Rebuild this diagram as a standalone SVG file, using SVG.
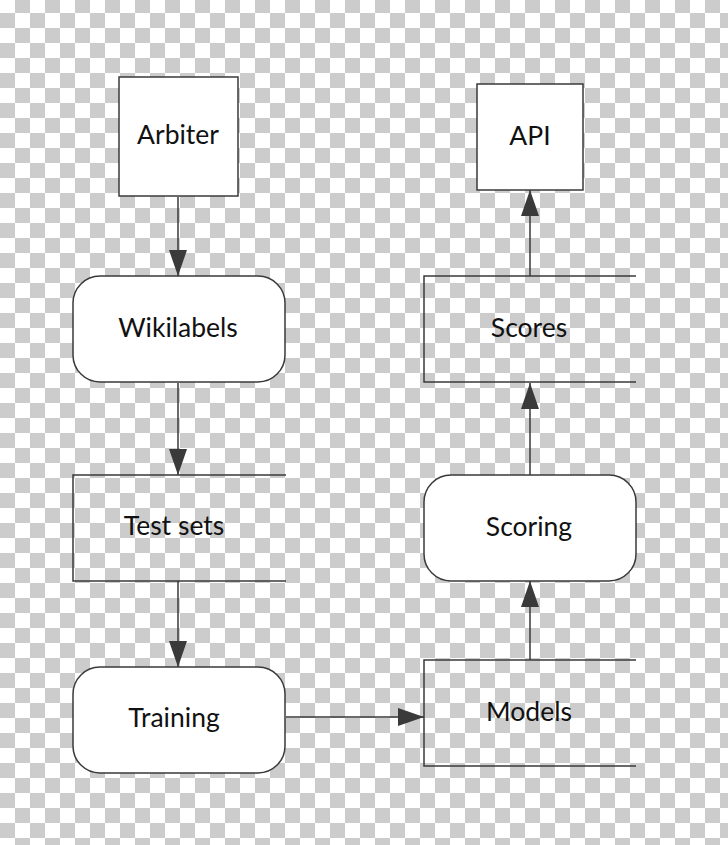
<svg xmlns="http://www.w3.org/2000/svg" width="728" height="845" viewBox="0 0 728 845">
<defs>
<pattern id="checker" patternUnits="userSpaceOnUse" x="0" y="-2" width="30" height="30">
<rect x="0" y="0" width="30" height="30" fill="#ffffff"/>
<rect x="15" y="0" width="15" height="15" fill="#cccccc"/>
<rect x="0" y="15" width="15" height="15" fill="#cccccc"/>
</pattern>
<marker id="arrow" markerUnits="userSpaceOnUse" markerWidth="26" markerHeight="18" refX="26" refY="9" orient="auto">
<path d="M0,0 L26,9 L0,18 z" fill="#3a3a3a"/>
</marker>
<style>
.box{fill:#ffffff;stroke:#3a3a3a;stroke-width:1.5}
.store{fill:none;stroke:#3a3a3a;stroke-width:1.5}
.conn{fill:none;stroke:#3a3a3a;stroke-width:1.5;marker-end:url(#arrow)}
.lbl{font-family:Lato,"Open Sans","Liberation Sans",sans-serif;font-size:26.5px;fill:#111111;text-anchor:middle;dominant-baseline:central}
</style>
</defs>
<rect x="0" y="0" width="728" height="845" fill="url(#checker)"/>
<g id="connectors">
<line class="conn" x1="178" y1="197" x2="178" y2="276"/>
<line class="conn" x1="178" y1="383" x2="178" y2="475"/>
<line class="conn" x1="178" y1="581" x2="178" y2="667"/>
<line class="conn" x1="286" y1="717" x2="424" y2="717"/>
<line class="conn" x1="530" y1="660" x2="530" y2="581"/>
<line class="conn" x1="530" y1="475" x2="530" y2="383"/>
<line class="conn" x1="530" y1="276" x2="530" y2="190"/>
</g>
<g id="arbiter">
<rect class="box" x="119" y="77" width="119" height="119"/>
<text class="lbl" x="178" y="134">Arbiter</text>
</g>
<g id="wikilabels">
<rect class="box" x="73" y="276" width="212" height="106" rx="27" ry="27"/>
<text class="lbl" x="178" y="327">Wikilabels</text>
</g>
<g id="testsets">
<path class="store" d="M286,475 H73 V581 H286"/>
<text class="lbl" x="174" y="525">Test sets</text>
</g>
<g id="training">
<rect class="box" x="73" y="667" width="212" height="106" rx="27" ry="27"/>
<text class="lbl" x="174" y="717">Training</text>
</g>
<g id="models">
<path class="store" d="M636,660 H424 V766 H636"/>
<text class="lbl" x="529" y="711">Models</text>
</g>
<g id="scoring">
<rect class="box" x="424" y="475" width="212" height="106" rx="27" ry="27"/>
<text class="lbl" x="529" y="526">Scoring</text>
</g>
<g id="scores">
<path class="store" d="M636,276 H424 V382 H636"/>
<text class="lbl" x="529" y="327">Scores</text>
</g>
<g id="api">
<rect class="box" x="477" y="84" width="106" height="106"/>
<text class="lbl" x="530" y="135">API</text>
</g>
</svg>
